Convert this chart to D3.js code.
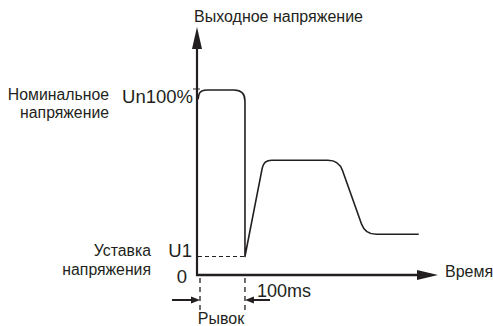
<!DOCTYPE html>
<html>
<head>
<meta charset="utf-8">
<script src="https://cdn.jsdelivr.net/npm/d3@7/dist/d3.min.js"></script>
<style>
  html, body { margin: 0; padding: 0; background: #fff; }
  svg { display: block; font-family: "Liberation Sans", Arial, sans-serif; }
</style>
</head>
<body>
<svg id="chart" width="493" height="326"></svg>
<script>
// Output voltage waveform: vertices (time, % of nominal) and corner rounding radius
const waveTime    = [0,  4,   100, 100, 140, 300, 356, 470];
const waveVoltage = [95, 100, 100, 10,  62,  62,  22,  22];
const waveRadius  = [0,  8,   11,  0,   8,   11,  11,  0];

// Reference levels shown on the vertical axis
const levelValues = [100, 10, 0];
const levelLabels = ["Un100%", "U1", "0"];

// Interval marked under the time axis (start, end in ms)
const jerkInterval = [0, 100];

const axisTitleY = "Выходное напряжение";
const axisTitleX = "Время";
const intervalLabel = "100ms";
const jerkLabel = "Рывок";
const nominalLabel = ["Номинальное", "напряжение"];
const setpointLabel = ["Уставка", "напряжения"];

const svg = d3.select("#chart");
const x = d3.scaleLinear().domain([0, 511]).range([198, 438]);
const y = d3.scaleLinear().domain([0, 100]).range([275, 90]);

const ink = "#231f20";

function label(text, px, py, size, anchor) {
  svg.append("text")
    .attr("x", px).attr("y", py)
    .attr("text-anchor", anchor)
    .attr("dominant-baseline", "central")
    .attr("font-size", size)
    .attr("fill", ink)
    .text(text);
}

// Polyline with rounded corners (quadratic join at each vertex)
function roundedPath(pts) {
  const p = d3.path();
  p.moveTo(pts[0][0], pts[0][1]);
  for (let i = 1; i < pts.length - 1; i++) {
    const [px, py, r] = pts[i];
    if (!r) { p.lineTo(px, py); continue; }
    const [ax, ay] = pts[i - 1], [bx, by] = pts[i + 1];
    const la = Math.hypot(ax - px, ay - py), lb = Math.hypot(bx - px, by - py);
    const ra = Math.min(r, la / 2), rb = Math.min(r, lb / 2);
    p.lineTo(px + (ax - px) * ra / la, py + (ay - py) * ra / la);
    p.quadraticCurveTo(px, py, px + (bx - px) * rb / lb, py + (by - py) * rb / lb);
  }
  const last = pts[pts.length - 1];
  p.lineTo(last[0], last[1]);
  return p.toString();
}

// Dashed reference lines
svg.append("line")
  .attr("x1", x(0)).attr("x2", x(100)).attr("y1", y(levelValues[1])).attr("y2", y(levelValues[1]))
  .attr("stroke", ink).attr("stroke-width", 1.2).attr("stroke-dasharray", "4,3");
svg.append("line")
  .attr("x1", x(0) - 5).attr("x2", x(4)).attr("y1", y(levelValues[0]) - 1).attr("y2", y(levelValues[0]) - 1)
  .attr("stroke", ink).attr("stroke-width", 1.2).attr("stroke-dasharray", "3,2");
jerkInterval.forEach(t => {
  const lx = x(t) + (t === 0 ? 2 : 0);
  svg.append("line")
    .attr("x1", lx).attr("x2", lx)
    .attr("y1", y(0) + 3).attr("y2", 310)
    .attr("stroke", ink).attr("stroke-width", 1.3).attr("stroke-dasharray", "5,4");
});

// Waveform
const pts = waveTime.map((t, i) => [x(t), y(waveVoltage[i]), waveRadius[i]]);
svg.append("path")
  .attr("d", roundedPath(pts))
  .attr("fill", "none").attr("stroke", ink).attr("stroke-width", 1.6)
  .attr("stroke-linejoin", "round");

// Axes with arrowheads
svg.append("line")
  .attr("x1", x(0) - 1).attr("x2", x(0) - 1).attr("y1", y(0) + 1).attr("y2", 46)
  .attr("stroke", ink).attr("stroke-width", 2.2);
svg.append("path")
  .attr("d", `M${x(0) - 1},27 L${x(0) - 6},49 L${x(0) + 4},49 Z`).attr("fill", ink);
svg.append("line")
  .attr("x1", x(0) - 2).attr("x2", 420).attr("y1", y(0)).attr("y2", y(0))
  .attr("stroke", ink).attr("stroke-width", 2.6);
svg.append("path")
  .attr("d", `M${x.range()[1]},${y(0)} L417,${y(0) - 5} L417,${y(0) + 5} Z`).attr("fill", ink);

// Dimension arrows for the jerk interval
const arrowY = 300;
[[172, x(jerkInterval[0]) + 2], [270, x(jerkInterval[1])]].forEach(([from, to]) => {
  const dir = Math.sign(to - from);
  svg.append("line")
    .attr("x1", from).attr("x2", to - dir * 7).attr("y1", arrowY).attr("y2", arrowY)
    .attr("stroke", ink).attr("stroke-width", 2);
  svg.append("path")
    .attr("d", `M${to},${arrowY} L${to - dir * 9},${arrowY - 3.5} L${to - dir * 9},${arrowY + 3.5} Z`)
    .attr("fill", ink);
});

// Level labels on the vertical axis
const levelY = [96, 250, 276];
const levelX = [193, 192, 187];
levelLabels.forEach((t, i) => label(t, levelX[i], levelY[i], 18.5, "end"));

// Text
label(axisTitleY, 194, 16, 16, "start");
label(axisTitleX, 445, 271, 16, "start");
label(nominalLabel[0], 109, 94, 15.8, "end");
label(nominalLabel[1], 109, 112, 15.8, "end");
label(setpointLabel[0], 151, 250, 15.8, "end");
label(setpointLabel[1], 151, 269, 15.8, "end");
label(intervalLabel, 257, 291, 18, "start");
label(jerkLabel, 221, 318, 16, "middle");
</script>
</body>
</html>
